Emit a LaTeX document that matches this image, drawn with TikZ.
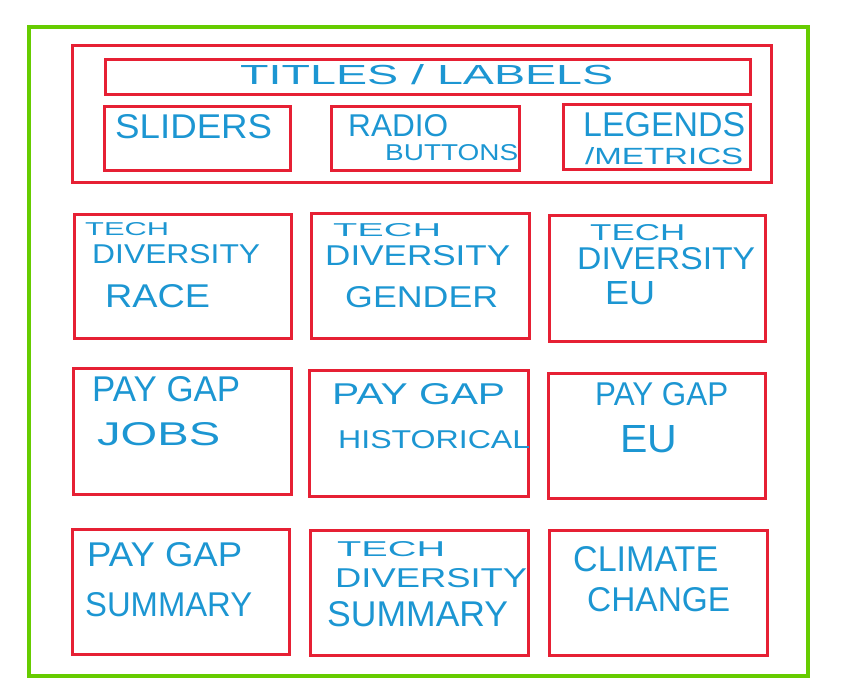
\documentclass[tikz,border=0pt]{standalone}
\usepackage{fontspec}
\setmainfont{Liberation Sans}
\definecolor{framegreen}{RGB}{102,204,0}
\definecolor{panelred}{RGB}{230,32,52}
\definecolor{ink}{RGB}{28,150,210}
% one line of lettering stretched to a given width and cap height (in pt)
\newcommand\penline[3]{\resizebox{#1pt}{#2pt}{#3}}

\begin{document}
\begin{tikzpicture}[x=1pt,y=-1pt,
  frame/.style={draw=framegreen, line width=4pt},
  panel/.style={draw=panelred, line width=2.6pt, inner sep=0pt, anchor=north west},
  hand/.style={text=ink, font=\fontsize{28}{32}\selectfont, anchor=base west, inner sep=0pt}]

\useasboundingbox (0,0) rectangle (846,692);

% page frame
\draw[frame] (29,27) rectangle (808,676);

% control panel
\node[panel, minimum width=699pt, minimum height=137pt] (controls) at (71,44) {};
\node[panel, minimum width=645pt, minimum height=35pt] (titles) at (104,58) {};
\node[panel, minimum width=186pt, minimum height=64pt] (sliders) at (103,105) {};
\node[panel, minimum width=188pt, minimum height=64pt] (radio) at (330,105) {};
\node[panel, minimum width=187pt, minimum height=65pt] (legends) at (562,103) {};

% chart grid
\node[panel, minimum width=217pt, minimum height=124pt] (race) at (73,213) {};
\node[panel, minimum width=218pt, minimum height=125pt] (gender) at (310,212) {};
\node[panel, minimum width=216pt, minimum height=126pt] (techeu) at (548,214) {};
\node[panel, minimum width=218pt, minimum height=126pt] (jobs) at (72,367) {};
\node[panel, minimum width=219pt, minimum height=126pt] (hist) at (308,369) {};
\node[panel, minimum width=217pt, minimum height=125pt] (payeu) at (547,372) {};
\node[panel, minimum width=217pt, minimum height=125pt] (paysum) at (71,528) {};
\node[panel, minimum width=218pt, minimum height=125pt] (techsum) at (309,529) {};
\node[panel, minimum width=218pt, minimum height=125pt] (climate) at (548,529) {};

% lettering
\node[hand] (t-titles) at (240,85) {\penline{373}{20}{TITLES / LABELS}};
\node[hand] (t-sliders) at (115,139) {\penline{157}{24}{SLIDERS}};
\node[hand] (t-radio1) at (348,137) {\penline{100}{22}{RADIO}};
\node[hand] (t-radio2) at (385,161) {\penline{133}{16}{BUTTONS}};
\node[hand] (t-leg1) at (583,137) {\penline{162}{24}{LEGENDS}};
\node[hand] (t-leg2) at (585,165) {\penline{158}{17}{/METRICS}};

\node[hand] (t-race1) at (85,236) {\penline{84}{13}{TECH}};
\node[hand] (t-race2) at (92,264) {\penline{168}{19}{DIVERSITY}};
\node[hand] (t-race3) at (105,308) {\penline{105}{23}{RACE}};

\node[hand] (t-gen1) at (333,237) {\penline{108}{13}{TECH}};
\node[hand] (t-gen2) at (325,266) {\penline{185}{20}{DIVERSITY}};
\node[hand] (t-gen3) at (345,308) {\penline{153}{21}{GENDER}};

\node[hand] (t-teu1) at (590,241) {\penline{95}{16}{TECH}};
\node[hand] (t-teu2) at (577,270) {\penline{178}{22}{DIVERSITY}};
\node[hand] (t-teu3) at (605,305) {\penline{50}{23}{EU}};

\node[hand] (t-jobs1) at (92,402) {\penline{148}{25}{PAY GAP}};
\node[hand] (t-jobs2) at (97,446) {\penline{123}{23}{JOBS}};

\node[hand] (t-hist1) at (332,404) {\penline{173}{21}{PAY GAP}};
\node[hand] (t-hist2) at (338,448) {\penline{192}{18}{HISTORICAL}};

\node[hand] (t-peu1) at (595,406) {\penline{133}{23}{PAY GAP}};
\node[hand] (t-peu2) at (620,452) {\penline{57}{27}{EU}};

\node[hand] (t-psum1) at (87,566) {\penline{155}{24}{PAY GAP}};
\node[hand] (t-psum2) at (85,616) {\penline{167}{24}{SUMMARY}};

\node[hand] (t-tsum1) at (337,556) {\penline{108}{15}{TECH}};
\node[hand] (t-tsum2) at (335,587) {\penline{192}{19}{DIVERSITY}};
\node[hand] (t-tsum3) at (327,626) {\penline{181}{25}{SUMMARY}};

\node[hand] (t-clim1) at (573,571) {\penline{145}{25}{CLIMATE}};
\node[hand] (t-clim2) at (587,611) {\penline{143}{24}{CHANGE}};
\end{tikzpicture}
\end{document}
